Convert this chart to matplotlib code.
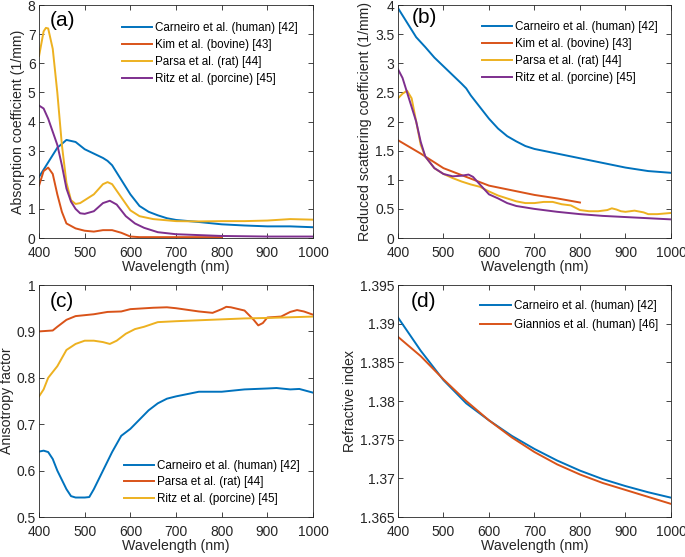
import matplotlib
matplotlib.use("Agg")
import matplotlib.pyplot as plt

plt.rcParams['font.family'] = ['Liberation Sans', 'DejaVu Sans']

BLUE = '#0072BD'
ORANGE = '#D95319'
YELLOW = '#EDB120'
PURPLE = '#7E2F8E'

# (a) absorption coefficient (1/mm)
a_carneiro_wl = [400, 420, 440, 460, 480, 500, 520, 540, 550, 560, 580, 600, 620, 640, 660, 680, 700, 750, 800, 850, 900, 950, 1000]
a_carneiro = [2.1, 2.6, 3.1, 3.37, 3.3, 3.05, 2.9, 2.75, 2.65, 2.5, 2.0, 1.5, 1.1, 0.9, 0.78, 0.68, 0.62, 0.55, 0.47, 0.43, 0.4, 0.4, 0.37]
a_kim_wl = [400, 410, 420, 430, 440, 450, 460, 480, 500, 520, 540, 560, 580, 600, 620, 700, 800]
a_kim = [1.8, 2.3, 2.42, 2.2, 1.5, 0.9, 0.5, 0.33, 0.25, 0.22, 0.27, 0.27, 0.18, 0.05, 0.03, 0.03, 0.03]
a_parsa_wl = [400, 410, 415, 420, 430, 440, 450, 460, 470, 480, 490, 500, 520, 540, 550, 560, 580, 600, 620, 650, 700, 750, 800, 850, 900, 950, 1000]
a_parsa = [6.25, 7.1, 7.22, 7.2, 6.5, 5.0, 3.2, 1.9, 1.3, 1.17, 1.2, 1.3, 1.5, 1.85, 1.92, 1.85, 1.4, 0.95, 0.75, 0.65, 0.58, 0.57, 0.58, 0.58, 0.6, 0.65, 0.63]
a_ritz_wl = [400, 410, 420, 440, 450, 460, 470, 480, 490, 500, 520, 540, 555, 570, 590, 610, 630, 660, 700, 750, 800, 900, 1000]
a_ritz = [4.55, 4.45, 4.1, 3.2, 2.5, 1.7, 1.25, 1.0, 0.85, 0.83, 0.92, 1.2, 1.28, 1.15, 0.75, 0.5, 0.35, 0.2, 0.13, 0.1, 0.07, 0.05, 0.05]

# (b) reduced scattering coefficient (1/mm)
b_carneiro_wl = [400, 420, 440, 460, 480, 500, 520, 540, 550, 560, 580, 600, 620, 640, 660, 680, 700, 750, 800, 850, 900, 950, 1000]
b_carneiro = [3.95, 3.7, 3.45, 3.28, 3.1, 2.95, 2.8, 2.65, 2.57, 2.45, 2.25, 2.05, 1.88, 1.75, 1.66, 1.58, 1.53, 1.45, 1.37, 1.29, 1.21, 1.15, 1.12]
b_kim_wl = [400, 450, 500, 550, 600, 650, 700, 750, 800]
b_kim = [1.68, 1.45, 1.2, 1.05, 0.9, 0.82, 0.74, 0.68, 0.61]
b_parsa_wl = [400, 410, 420, 430, 440, 450, 460, 470, 480, 500, 520, 540, 560, 580, 600, 620, 640, 660, 680, 700, 720, 740, 760, 780, 790, 800, 820, 840, 860, 870, 880, 890, 900, 920, 940, 950, 970, 1000]
b_parsa = [2.4, 2.48, 2.53, 2.4, 2.0, 1.6, 1.4, 1.3, 1.2, 1.1, 1.03, 0.97, 0.92, 0.88, 0.8, 0.73, 0.68, 0.63, 0.6, 0.6, 0.62, 0.62, 0.58, 0.56, 0.52, 0.48, 0.46, 0.46, 0.48, 0.51, 0.49, 0.46, 0.45, 0.47, 0.44, 0.41, 0.41, 0.43]
b_ritz_wl = [400, 410, 420, 440, 450, 460, 470, 480, 500, 520, 540, 555, 565, 580, 600, 620, 640, 660, 700, 750, 800, 850, 900, 950, 1000]
b_ritz = [2.9, 2.75, 2.5, 2.0, 1.65, 1.4, 1.3, 1.2, 1.1, 1.06, 1.07, 1.09, 1.05, 0.92, 0.75, 0.68, 0.6, 0.55, 0.5, 0.45, 0.41, 0.38, 0.36, 0.34, 0.32]

# (c) anisotropy factor
c_carneiro_wl = [400, 410, 420, 430, 440, 460, 470, 480, 500, 510, 520, 540, 560, 580, 600, 620, 640, 660, 680, 700, 750, 800, 850, 900, 920, 950, 970, 1000]
c_carneiro = [0.641, 0.643, 0.64, 0.625, 0.6, 0.56, 0.545, 0.542, 0.542, 0.543, 0.56, 0.6, 0.64, 0.675, 0.69, 0.71, 0.73, 0.745, 0.755, 0.76, 0.77, 0.77, 0.775, 0.777, 0.778, 0.775, 0.776, 0.768]
c_parsa_wl = [400, 430, 440, 460, 480, 500, 520, 550, 580, 600, 650, 680, 700, 750, 780, 800, 810, 820, 850, 870, 880, 890, 900, 930, 950, 965, 980, 1000]
c_parsa = [0.9, 0.902, 0.91, 0.925, 0.933, 0.935, 0.937, 0.942, 0.943, 0.948, 0.951, 0.952, 0.95, 0.943, 0.94, 0.948, 0.953, 0.952, 0.945, 0.925, 0.913, 0.918, 0.93, 0.932, 0.942, 0.946, 0.943, 0.936]
c_ritz_wl = [400, 410, 420, 440, 460, 480, 500, 520, 540, 555, 570, 590, 610, 630, 660, 700, 800, 850, 900, 1000]
c_ritz = [0.76, 0.775, 0.8, 0.825, 0.86, 0.873, 0.88, 0.88, 0.877, 0.873, 0.88, 0.895, 0.905, 0.91, 0.92, 0.922, 0.926, 0.928, 0.929, 0.932]

# (d) refractive index
d_wl = [400, 450, 500, 550, 600, 650, 700, 750, 800, 850, 900, 950, 1000]
d_carneiro = [1.3908, 1.3865, 1.3827, 1.3797, 1.3775, 1.3755, 1.3738, 1.3723, 1.371, 1.3699, 1.369, 1.3682, 1.3675]
d_giannios = [1.3883, 1.3858, 1.3828, 1.38, 1.3775, 1.3753, 1.3734, 1.3718, 1.3705, 1.3694, 1.3685, 1.3676, 1.3667]

x_ticks = [400, 500, 600, 700, 800, 900, 1000]


def style_axis(ax, letter, letter_pos, ylabel, ylim, yticks, yticklabels):
    ax.set_xlim(400, 1000)
    ax.set_ylim(*ylim)
    ax.set_xticks(x_ticks)
    ax.set_yticks(yticks)
    ax.set_yticklabels(yticklabels)
    ax.tick_params(direction='in', top=True, right=True, labelsize=10,
                   length=3.5, width=0.6, color='#262626', labelcolor='#262626')
    ax.tick_params(axis='x', pad=6)
    ax.tick_params(axis='y', pad=2.5)
    for s in ax.spines.values():
        s.set_color('#262626')
        s.set_linewidth(0.6)
    ax.set_xlabel('Wavelength (nm)', fontsize=10.2, color='#262626', labelpad=0)
    ax.set_ylabel(ylabel, fontsize=10.2, color='#262626', labelpad=2)
    ax.text(letter_pos[0], letter_pos[1], letter, transform=ax.transAxes,
            fontsize=15, va='center', ha='left')


fig = plt.figure(figsize=(6.85, 5.57), dpi=100)
ax_a = fig.add_axes([0.057, 0.5727, 0.400, 0.418])
ax_b = fig.add_axes([0.581, 0.5727, 0.3985, 0.418])
ax_c = fig.add_axes([0.057, 0.0718, 0.400, 0.4165])
ax_d = fig.add_axes([0.581, 0.0718, 0.3985, 0.4165])

lw = 1.4
leg_kw = dict(frameon=False, fontsize=8.4, handlelength=2.6, handletextpad=0.25,
              labelspacing=0.42, borderaxespad=0.3)

# (a)
ax_a.plot(a_carneiro_wl, a_carneiro, color=BLUE, lw=lw, label='Carneiro et al. (human) [42]')
ax_a.plot(a_kim_wl, a_kim, color=ORANGE, lw=lw, label='Kim et al. (bovine) [43]')
ax_a.plot(a_parsa_wl, a_parsa, color=YELLOW, lw=lw, label='Parsa et al. (rat) [44]')
ax_a.plot(a_ritz_wl, a_ritz, color=PURPLE, lw=lw, label='Ritz et al. (porcine) [45]')
style_axis(ax_a, '(a)', (0.04, 0.936), 'Absorption coefficient (1/mm)', (0, 8),
           range(0, 9), [str(v) for v in range(0, 9)])
ax_a.legend(loc='upper right', bbox_to_anchor=(0.974, 0.961), **leg_kw)

# (b)
ax_b.plot(b_carneiro_wl, b_carneiro, color=BLUE, lw=lw, label='Carneiro et al. (human) [42]')
ax_b.plot(b_kim_wl, b_kim, color=ORANGE, lw=lw, label='Kim et al. (bovine) [43]')
ax_b.plot(b_parsa_wl, b_parsa, color=YELLOW, lw=lw, label='Parsa et al. (rat) [44]')
ax_b.plot(b_ritz_wl, b_ritz, color=PURPLE, lw=lw, label='Ritz et al. (porcine) [45]')
b_ticks = [0, 0.5, 1, 1.5, 2, 2.5, 3, 3.5, 4]
style_axis(ax_b, '(b)', (0.051, 0.948), 'Reduced scattering coefficient (1/mm)', (0, 4),
           b_ticks, ['%g' % v for v in b_ticks])
ax_b.legend(loc='upper right', bbox_to_anchor=(0.982, 0.966), **leg_kw)

# (c)
ax_c.plot(c_carneiro_wl, c_carneiro, color=BLUE, lw=lw, label='Carneiro et al. (human) [42]')
ax_c.plot(c_parsa_wl, c_parsa, color=ORANGE, lw=lw, label='Parsa et al. (rat) [44]')
ax_c.plot(c_ritz_wl, c_ritz, color=YELLOW, lw=lw, label='Ritz et al. (porcine) [45]')
c_ticks = [0.5, 0.6, 0.7, 0.8, 0.9, 1.0]
style_axis(ax_c, '(c)', (0.04, 0.927), 'Anisotropy factor', (0.5, 1),
           c_ticks, ['%g' % v for v in c_ticks])
c_kw = dict(leg_kw, labelspacing=0.38)
ax_c.legend(loc='lower right', bbox_to_anchor=(0.982, 0.017), **c_kw)

# (d)
ax_d.plot(d_wl, d_carneiro, color=BLUE, lw=lw, label='Carneiro et al. (human) [42]')
ax_d.plot(d_wl, d_giannios, color=ORANGE, lw=lw, label='Giannios et al. (human) [46]')
d_ticks = [1.365, 1.37, 1.375, 1.38, 1.385, 1.39, 1.395]
style_axis(ax_d, '(d)', (0.048, 0.927), 'Refractive index', (1.365, 1.395),
           d_ticks, ['%g' % v for v in d_ticks])
d_kw = dict(leg_kw, labelspacing=0.6)
ax_d.legend(loc='upper right', bbox_to_anchor=(0.982, 0.97), **d_kw)

fig.savefig('out.png', dpi=100, facecolor='white')
